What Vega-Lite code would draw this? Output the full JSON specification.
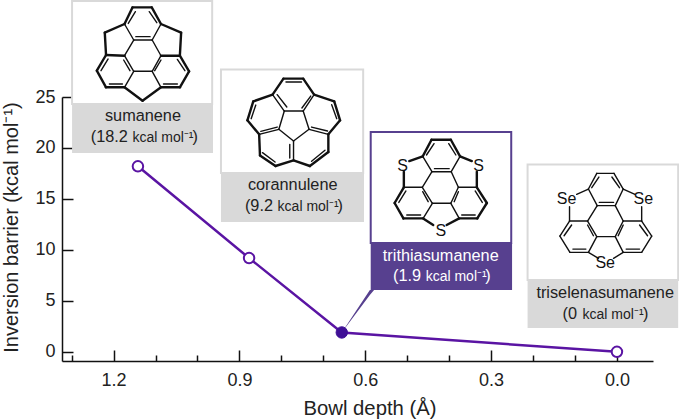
{"$schema":"https://vega.github.io/schema/vega-lite/v6.json","width":591,"height":264,"autosize":{"type":"none"},"padding":{"left":62,"top":97,"right":26,"bottom":59},"background":"white","config":{"font":"Liberation Sans","view":{"stroke":null}},
"datasets":{
"series":[{"mol":"sumanene","d":1.142,"b":18.2},{"mol":"corannulene","d":0.877,"b":9.2},{"mol":"trithiasumanene","d":0.656,"b":1.9},{"mol":"triselenasumanene","d":0.0,"b":0}],
"panels":[{"mol":"sumanene","d":1.299,"d2":0.965,"b":34.42,"b2":24.31},{"mol":"corannulene","d":0.944,"d2":0.605,"b":27.7,"b2":17.54},{"mol":"trithiasumanene","d":0.587,"d2":0.252,"b":21.56,"b2":10.67},{"mol":"triselenasumanene","d":0.213,"d2":-0.146,"b":18.38,"b2":7.04}],
"captions":[{"mol":"sumanene","d":1.299,"d2":0.963,"b":24.31,"b2":19.5},{"mol":"corannulene","d":0.944,"d2":0.603,"b":17.54,"b2":12.73},{"mol":"trithiasumanene","d":0.587,"d2":0.25,"b":10.67,"b2":6.06},{"mol":"triselenasumanene","d":0.213,"d2":-0.146,"b":7.04,"b2":2.33}],
"tail":[{"d":0.656,"b":1.9,"b2":1.9},{"d":0.589,"b":6.06,"b2":5.57},{"d":0.579,"b":6.06,"b2":6.06}],
"names":[{"mol":"sumanene","d":1.13,"b":23.12},{"mol":"corannulene","d":0.773,"b":16.37},{"mol":"trithiasumanene","d":0.42,"b":9.43},{"mol":"triselenasumanene","d":0.028,"b":5.74}],
"values":[{"mol":"sumanene","t":"(18.2","d":1.166,"b":21.08},{"mol":"corannulene","t":"(9.2","d":0.82,"b":14.33},{"mol":"trithiasumanene","t":"(1.9","d":0.467,"b":7.44},{"mol":"triselenasumanene","t":"(0","d":0.095,"b":3.71}],
"units":[{"mol":"sumanene","d":1.155,"b":21.0},{"mol":"corannulene","d":0.809,"b":14.25},{"mol":"trithiasumanene","d":0.456,"b":7.36},{"mol":"triselenasumanene","d":0.082,"b":3.63}],
"closers":[{"mol":"sumanene","d":1.012,"b":21.08},{"mol":"corannulene","d":0.666,"b":14.33},{"mol":"trithiasumanene","d":0.314,"b":7.44},{"mol":"triselenasumanene","d":-0.062,"b":3.71}],
"atoms":[{"a":"S","d":0.511,"b":18.26},{"a":"S","d":0.33,"b":18.26},{"a":"S","d":0.42,"b":11.85},{"a":"Se","d":0.12,"b":14.96},{"a":"Se","d":-0.063,"b":14.96},{"a":"Se","d":0.028,"b":8.68}],
"rim":[
{"d":1.155,"b":33.79,"d2":1.109,"b2":33.79},{"d":1.109,"b":33.79,"d2":1.087,"b2":32.16},{"d":1.155,"b":33.79,"d2":1.174,"b2":32.16},{"d":1.174,"b":32.16,"d2":1.221,"b2":31.31},{"d":1.221,"b":31.31,"d2":1.218,"b2":29.12},{"d":1.218,"b":29.12,"d2":1.174,"b2":29.05},{"d":1.218,"b":29.12,"d2":1.24,"b2":27.58},{"d":1.24,"b":27.58,"d2":1.218,"b2":25.95},{"d":1.218,"b":25.95,"d2":1.174,"b2":25.95},{"d":1.174,"b":25.95,"d2":1.131,"b2":24.64},{"d":1.131,"b":24.64,"d2":1.087,"b2":25.95},{"d":1.087,"b":25.95,"d2":1.042,"b2":25.95},{"d":1.042,"b":25.95,"d2":1.02,"b2":27.52},{"d":1.02,"b":27.52,"d2":1.042,"b2":29.05},{"d":1.042,"b":29.05,"d2":1.087,"b2":29.05},{"d":1.042,"b":29.05,"d2":1.039,"b2":31.31},{"d":1.039,"b":31.31,"d2":1.087,"b2":32.16},
{"d":0.795,"b":26.8,"d2":0.748,"b2":26.8},{"d":0.748,"b":26.8,"d2":0.722,"b2":25.23},{"d":0.722,"b":25.23,"d2":0.674,"b2":24.57},{"d":0.674,"b":24.57,"d2":0.66,"b2":22.71},{"d":0.66,"b":22.71,"d2":0.688,"b2":21.34},{"d":0.688,"b":21.34,"d2":0.688,"b2":19.6},{"d":0.688,"b":19.6,"d2":0.732,"b2":18.23},{"d":0.732,"b":18.23,"d2":0.771,"b2":18.78},{"d":0.771,"b":18.78,"d2":0.814,"b2":18.23},{"d":0.814,"b":18.23,"d2":0.851,"b2":19.27},{"d":0.851,"b":19.27,"d2":0.853,"b2":21.34},{"d":0.853,"b":21.34,"d2":0.881,"b2":22.71},{"d":0.881,"b":22.71,"d2":0.867,"b2":24.57},{"d":0.867,"b":24.57,"d2":0.821,"b2":25.23},{"d":0.821,"b":25.23,"d2":0.795,"b2":26.8},
{"d":0.442,"b":20.81,"d2":0.396,"b2":20.81},{"d":0.396,"b":20.81,"d2":0.374,"b2":19.18},{"d":0.442,"b":20.81,"d2":0.463,"b2":19.18},{"d":0.463,"b":19.18,"d2":0.495,"b2":18.72},{"d":0.374,"b":19.18,"d2":0.346,"b2":18.72},{"d":0.508,"b":16.14,"d2":0.508,"b2":17.67},{"d":0.334,"b":16.14,"d2":0.334,"b2":17.67},{"d":0.508,"b":16.14,"d2":0.53,"b2":14.6},{"d":0.53,"b":14.6,"d2":0.509,"b2":13.09},{"d":0.509,"b":13.09,"d2":0.462,"b2":13.09},{"d":0.462,"b":13.09,"d2":0.438,"b2":12.44},{"d":0.376,"b":13.09,"d2":0.406,"b2":12.44},{"d":0.376,"b":13.09,"d2":0.333,"b2":13.09},{"d":0.333,"b":13.09,"d2":0.31,"b2":14.6},{"d":0.31,"b":14.6,"d2":0.334,"b2":16.14}],
"thin":[
{"d":1.152,"b":30.59,"d2":1.174,"b2":29.05},{"d":1.108,"b":30.59,"d2":1.087,"b2":29.05},{"d":1.152,"b":27.52,"d2":1.108,"b2":27.52},{"d":1.152,"b":30.59,"d2":1.108,"b2":30.59},{"d":1.174,"b":32.16,"d2":1.152,"b2":30.59},{"d":1.087,"b":32.16,"d2":1.108,"b2":30.59},{"d":1.174,"b":29.05,"d2":1.152,"b2":27.52},{"d":1.152,"b":27.52,"d2":1.174,"b2":25.95},{"d":1.087,"b":29.05,"d2":1.108,"b2":27.52},{"d":1.108,"b":27.52,"d2":1.087,"b2":25.95},
{"d":1.165,"b":32.22,"d2":1.148,"b2":33.37},{"d":1.115,"b":33.37,"d2":1.097,"b2":32.29},{"d":1.147,"b":30.92,"d2":1.113,"b2":30.92},{"d":1.213,"b":28.73,"d2":1.23,"b2":27.58},{"d":1.176,"b":28.63,"d2":1.161,"b2":27.58},{"d":1.21,"b":26.27,"d2":1.179,"b2":26.27},{"d":1.087,"b":28.63,"d2":1.102,"b2":27.58},{"d":1.048,"b":28.69,"d2":1.03,"b2":27.58},{"d":1.081,"b":26.27,"d2":1.048,"b2":26.27},
{"d":0.722,"b":25.23,"d2":0.748,"b2":23.62},{"d":0.688,"b":21.34,"d2":0.734,"b2":21.83},{"d":0.771,"b":18.78,"d2":0.771,"b2":20.68},{"d":0.853,"b":21.34,"d2":0.806,"b2":21.83},{"d":0.821,"b":25.23,"d2":0.793,"b2":23.62},{"d":0.793,"b":23.62,"d2":0.748,"b2":23.62},{"d":0.748,"b":23.62,"d2":0.734,"b2":21.83},{"d":0.734,"b":21.83,"d2":0.771,"b2":20.68},{"d":0.771,"b":20.68,"d2":0.806,"b2":21.83},{"d":0.806,"b":21.83,"d2":0.793,"b2":23.62},
{"d":0.789,"b":26.47,"d2":0.752,"b2":26.47},{"d":0.861,"b":24.21,"d2":0.872,"b2":22.87},{"d":0.68,"b":24.25,"d2":0.668,"b2":22.87},{"d":0.696,"b":19.77,"d2":0.728,"b2":18.69},{"d":0.815,"b":18.62,"d2":0.845,"b2":19.54},{"d":0.81,"b":25.23,"d2":0.787,"b2":24.02},{"d":0.73,"b":25.09,"d2":0.751,"b2":23.92},{"d":0.69,"b":21.66,"d2":0.728,"b2":22.05},{"d":0.849,"b":21.63,"d2":0.81,"b2":22.05},{"d":0.78,"b":20.35,"d2":0.78,"b2":19.01},
{"d":0.441,"b":17.67,"d2":0.464,"b2":16.14},{"d":0.395,"b":17.67,"d2":0.378,"b2":16.14},{"d":0.44,"b":14.57,"d2":0.396,"b2":14.57},{"d":0.441,"b":17.67,"d2":0.395,"b2":17.67},{"d":0.463,"b":19.18,"d2":0.441,"b2":17.67},{"d":0.374,"b":19.18,"d2":0.395,"b2":17.67},{"d":0.464,"b":16.14,"d2":0.44,"b2":14.57},{"d":0.44,"b":14.57,"d2":0.462,"b2":13.09},{"d":0.378,"b":16.14,"d2":0.396,"b2":14.57},{"d":0.396,"b":14.57,"d2":0.376,"b2":13.09},{"d":0.508,"b":16.14,"d2":0.464,"b2":16.14},{"d":0.334,"b":16.14,"d2":0.378,"b2":16.14},
{"d":0.454,"b":19.31,"d2":0.436,"b2":20.42},{"d":0.401,"b":20.42,"d2":0.384,"b2":19.31},{"d":0.435,"b":17.97,"d2":0.4,"b2":17.97},{"d":0.503,"b":15.78,"d2":0.52,"b2":14.66},{"d":0.463,"b":15.71,"d2":0.45,"b2":14.73},{"d":0.501,"b":13.42,"d2":0.468,"b2":13.42},{"d":0.378,"b":15.71,"d2":0.388,"b2":14.73},{"d":0.338,"b":15.78,"d2":0.321,"b2":14.66},{"d":0.37,"b":13.42,"d2":0.338,"b2":13.42},
{"d":0.048,"b":17.51,"d2":0.007,"b2":17.51},{"d":0.007,"b":17.51,"d2":-0.015,"b2":15.97},{"d":0.048,"b":17.51,"d2":0.068,"b2":15.97},{"d":0.068,"b":15.97,"d2":0.096,"b2":15.45},{"d":-0.015,"b":15.97,"d2":-0.043,"b2":15.45},{"d":0.113,"b":12.83,"d2":0.113,"b2":14.24},{"d":-0.059,"b":12.83,"d2":-0.059,"b2":14.24},{"d":0.113,"b":12.83,"d2":0.136,"b2":11.36},{"d":0.136,"b":11.36,"d2":0.112,"b2":9.76},{"d":0.112,"b":9.76,"d2":0.068,"b2":9.76},{"d":0.068,"b":9.76,"d2":0.044,"b2":9.17},{"d":-0.015,"b":9.76,"d2":0.008,"b2":9.17},{"d":-0.015,"b":9.76,"d2":-0.059,"b2":9.76},{"d":-0.059,"b":9.76,"d2":-0.083,"b2":11.36},{"d":-0.083,"b":11.36,"d2":-0.059,"b2":12.83},
{"d":0.047,"b":14.34,"d2":0.07,"b2":12.83},{"d":0.004,"b":14.34,"d2":-0.015,"b2":12.83},{"d":0.048,"b":11.3,"d2":0.004,"b2":11.3},{"d":0.047,"b":14.34,"d2":0.004,"b2":14.34},{"d":0.068,"b":15.97,"d2":0.047,"b2":14.34},{"d":-0.015,"b":15.97,"d2":0.004,"b2":14.34},{"d":0.07,"b":12.83,"d2":0.048,"b2":11.3},{"d":0.048,"b":11.3,"d2":0.068,"b2":9.76},{"d":-0.015,"b":12.83,"d2":0.004,"b2":11.3},{"d":0.004,"b":11.3,"d2":-0.015,"b2":9.76},{"d":0.113,"b":12.83,"d2":0.07,"b2":12.83},{"d":-0.059,"b":12.83,"d2":-0.015,"b2":12.83},
{"d":0.06,"b":16.1,"d2":0.043,"b2":17.15},{"d":0.012,"b":17.15,"d2":-0.006,"b2":16.1},{"d":0.042,"b":14.66,"d2":0.008,"b2":14.66},{"d":0.108,"b":12.44,"d2":0.126,"b2":11.39},{"d":0.07,"b":12.44,"d2":0.056,"b2":11.39},{"d":0.105,"b":10.08,"d2":0.074,"b2":10.08},{"d":-0.015,"b":12.44,"d2":-0.003,"b2":11.39},{"d":-0.054,"b":12.44,"d2":-0.073,"b2":11.39},{"d":-0.022,"b":10.08,"d2":-0.054,"b2":10.08}]
},
"encoding":{
"x":{"field":"d","type":"quantitative","title":"Bowl depth (Å)","scale":{"domain":[1.323,-0.086],"nice":false,"zero":false},"axis":{"values":[1.3,1.2,1.1,1.0,0.9,0.8,0.7,0.6,0.5,0.4,0.3,0.2,0.1,0.0],"labelExpr":"round(datum.value*10)%3==0 ? format(datum.value,'.1f') : ''","grid":false,"domainColor":"#111","domainWidth":1.5,"tickColor":"#111","tickWidth":1.5,"tickSize":{"condition":{"test":"round(datum.value*10)%3==0","value":-11},"value":-6},"labelFontSize":18,"labelColor":"#222","labelPadding":21,"labelFlush":false,"labelOverlap":false,"titleFontSize":20.3,"titleFontWeight":"normal","titleColor":"#222","titleX":307.5,"titleY":47,"titleBaseline":"middle"}},
"y":{"field":"b","type":"quantitative","title":"Inversion barrier (kcal mol⁻¹)","scale":{"domain":[-0.9,25],"nice":false,"zero":false},"axis":{"values":[0,5,10,15,20,25],"grid":false,"domainColor":"#111","domainWidth":1.5,"tickColor":"#111","tickWidth":1.5,"tickSize":-11,"labelFontSize":18,"labelColor":"#222","labelPadding":18,"titleFontSize":20,"titleFontWeight":"normal","titleColor":"#222","titleX":-51,"titleY":130,"titleBaseline":"middle"}}
},
"layer":[
{"data":{"name":"tail"},"mark":{"type":"area","color":"#57408f","clip":false},"encoding":{"y2":{"field":"b2"}}},
{"data":{"name":"series"},"mark":{"type":"line","color":"#5a14a3","strokeWidth":2.5,"clip":false}},
{"data":{"name":"series"},"transform":[{"filter":"datum.mol!='trithiasumanene'"}],"mark":{"type":"point","shape":"circle","filled":true,"fill":"white","stroke":"#5a14a3","strokeWidth":2,"size":110,"opacity":1,"clip":false}},
{"data":{"name":"series"},"transform":[{"filter":"datum.mol=='trithiasumanene'"}],"mark":{"type":"point","shape":"circle","filled":true,"fill":"#3f0f96","stroke":"#3f0f96","strokeWidth":1,"size":130,"opacity":1,"clip":false}},
{"data":{"name":"panels"},"mark":{"type":"rect","fill":"white","strokeWidth":2,"clip":false},"encoding":{"x2":{"field":"d2"},"y2":{"field":"b2"},"stroke":{"condition":{"test":"datum.mol=='trithiasumanene'","value":"#57408f"},"value":"#d9d9d9"}}},
{"data":{"name":"captions"},"mark":{"type":"rect","clip":false},"encoding":{"x2":{"field":"d2"},"y2":{"field":"b2"},"fill":{"condition":{"test":"datum.mol=='trithiasumanene'","value":"#57408f"},"value":"#d9d9d9"}}},
{"data":{"name":"rim"},"mark":{"type":"rule","color":"#111","strokeWidth":2.4,"strokeCap":"round","clip":false},"encoding":{"x2":{"field":"d2"},"y2":{"field":"b2"}}},
{"data":{"name":"thin"},"mark":{"type":"rule","color":"#111","strokeWidth":1.4,"strokeCap":"round","clip":false},"encoding":{"x2":{"field":"d2"},"y2":{"field":"b2"}}},
{"data":{"name":"atoms"},"mark":{"type":"text","fontSize":16,"baseline":"middle","align":"center","color":"#111","clip":false},"encoding":{"text":{"field":"a"}}},
{"data":{"name":"names"},"mark":{"type":"text","fontSize":16.3,"baseline":"middle","align":"center","clip":false},"encoding":{"text":{"field":"mol"},"color":{"condition":{"test":"datum.mol=='trithiasumanene'","value":"white"},"value":"#222"}}},
{"data":{"name":"values"},"mark":{"type":"text","fontSize":16.3,"baseline":"middle","align":"right","clip":false},"encoding":{"text":{"field":"t"},"color":{"condition":{"test":"datum.mol=='trithiasumanene'","value":"white"},"value":"#222"}}},
{"data":{"name":"units"},"mark":{"type":"text","fontSize":14,"baseline":"middle","align":"left","text":"kcal mol⁻¹","clip":false},"encoding":{"color":{"condition":{"test":"datum.mol=='trithiasumanene'","value":"white"},"value":"#222"}}},
{"data":{"name":"closers"},"mark":{"type":"text","fontSize":16.3,"baseline":"middle","align":"left","text":")","clip":false},"encoding":{"color":{"condition":{"test":"datum.mol=='trithiasumanene'","value":"white"},"value":"#222"}}}
]}
